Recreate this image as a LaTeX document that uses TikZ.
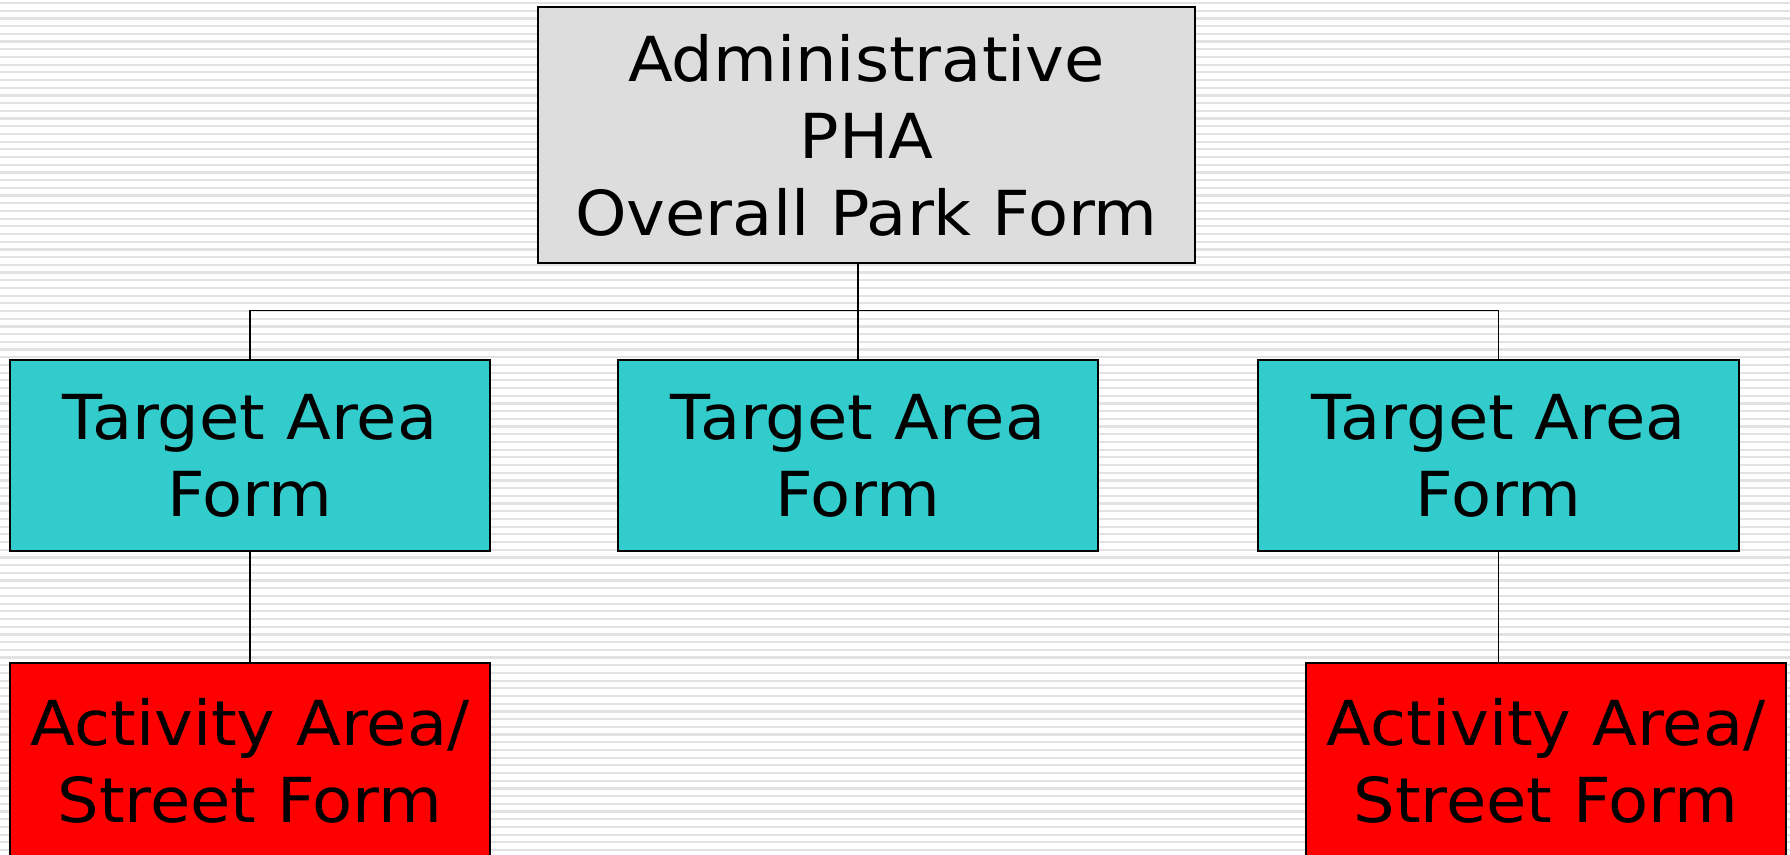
\documentclass[tikz,border=0pt]{standalone}
\usepackage{fontspec}
\setmainfont{DejaVu Sans}
\newfontfamily\boxfont[FakeStretch=1.057]{DejaVu Sans}
\definecolor{boxgray}{HTML}{DDDDDD}
\definecolor{boxteal}{HTML}{33CCCC}
\definecolor{boxred}{HTML}{FF0000}
\definecolor{stripe}{HTML}{E2E2E2}
\tikzset{
  x=1pt, y=-1pt,
  formbox/.style={draw=black, line width=1.6pt, inner sep=0pt, align=center,
    font=\boxfont\fontsize{62}{77}\selectfont},
  conn/.style={draw=black, line width=1.7pt},
}
\begin{document}
\begin{tikzpicture}
\useasboundingbox (0,0) rectangle (1790,854);
\clip (0,0) rectangle (1790,854);
\fill[white] (0,0) rectangle (1790,854);
\foreach \i in {0,...,111} {
  \draw[stripe, line width=2.2pt] (0,{3+\i*7.7}) -- (1790,{3+\i*7.7});
}
\node[formbox, fill=boxgray, minimum width=657pt, minimum height=256pt] (top) at (866.5,135) {Administrative\\PHA\\Overall Park Form};
\node[formbox, fill=boxteal, minimum width=480pt, minimum height=191pt] (t1) at (250,455.5) {Target Area\\Form};
\node[formbox, fill=boxteal, minimum width=480pt, minimum height=191pt] (t2) at (858,455.5) {Target Area\\Form};
\node[formbox, fill=boxteal, minimum width=481pt, minimum height=191pt] (t3) at (1498.5,455.5) {Target Area\\Form};
\node[formbox, fill=boxred, minimum width=480pt, minimum height=196pt] (r1) at (250,761) {Activity Area/\\Street Form};
\node[formbox, fill=boxred, minimum width=480pt, minimum height=196pt] (r2) at (1546,761) {Activity Area/\\Street Form};
\coordinate (bus) at (858,310.5);
\draw[conn] (top.south -| t2.north) -- (t2.north);
\draw[conn] (t1.north) -- (t1.north |- bus) -- (t3.north |- bus) -- (t3.north);
\draw[conn] (t1.south) -- (r1.north);
\draw[conn] (t3.south) -- (t3.south |- r2.north);
\end{tikzpicture}
\end{document}
